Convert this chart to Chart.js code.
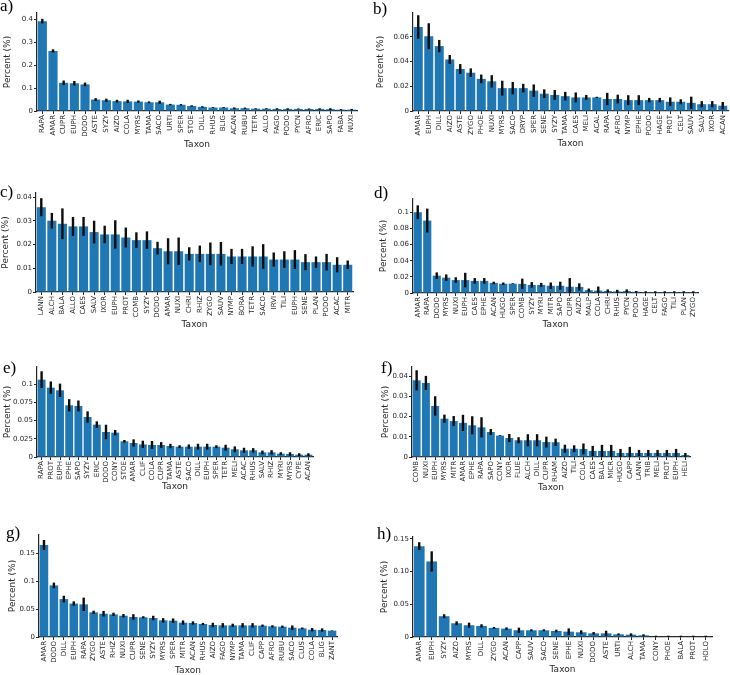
<!DOCTYPE html>
<html>
<head>
<meta charset="utf-8">
<script src="https://cdn.jsdelivr.net/npm/chart.js@4.4.1/dist/chart.umd.min.js"></script>
<style>
  html, body { margin: 0; padding: 0; background: #fff; overflow: hidden; }
  body { width: 730px; height: 675px; position: relative; }
  canvas { position: absolute; }
  .lbl { position: absolute; font-family: "Liberation Serif", "DejaVu Serif", serif; font-size: 17px; line-height: 1; color: #000; }
</style>
</head>
<body>
<script>
// ---------- DATA ----------
const catsA = ["RAPA","AMAR","CUPR","EUPH","DODO","ASTE","SYZY","AIZO","COLA","MYRS","TAMA","SACO","URTI","SPER","STOE","DILL","RHUS","BLIG","ACAN","RUBU","TETR","ALLO","FAGO","PODO","PYCN","AFRO","ERIC","SAPO","FABA","NUXI"];
const valsA = [0.392,0.262,0.123,0.121,0.116,0.050,0.047,0.043,0.042,0.041,0.038,0.038,0.028,0.027,0.022,0.018,0.015,0.015,0.012,0.012,0.010,0.010,0.009,0.009,0.009,0.009,0.009,0.008,0.006,0.006];
const errsA = [0.010,0.007,0.010,0.010,0.008,0.006,0.007,0.006,0.007,0.005,0.004,0.007,0.003,0.003,0.003,0.003,0.002,0.002,0.004,0.003,0.002,0.002,0.003,0.003,0.002,0.002,0.003,0.004,0.002,0.003];
const ticksA = [0,0.1,0.2,0.3,0.4];
const tickLabelsA = ["0","0.1","0.2","0.3","0.4"];

const catsB = ["AMAR","EUPH","DILL","AIZO","ASTE","ZYGO","PHOE","NUXI","MYRS","SACO","DRYP","SPER","SENE","SYZY","TAMA","CAES","MELI","ACAL","RAPA","AFRO","NYMP","EPHE","PODO","HAGE","PROT","CELT","SAUV","SALV","IXOR","ACAN"];
const valsB = [0.068,0.0605,0.0525,0.0417,0.034,0.031,0.026,0.024,0.0185,0.0185,0.0185,0.0165,0.014,0.013,0.012,0.011,0.011,0.011,0.0097,0.0097,0.0088,0.0088,0.0088,0.0088,0.0075,0.0075,0.0066,0.0055,0.0055,0.0043];
const errsB = [0.0095,0.0105,0.005,0.0036,0.004,0.0035,0.0035,0.005,0.006,0.005,0.0035,0.005,0.0035,0.004,0.0035,0.004,0.002,0.0005,0.005,0.0035,0.004,0.004,0.0018,0.0018,0.0035,0.002,0.005,0.0025,0.0025,0.003];
const ticksB = [0,0.02,0.04,0.06];
const tickLabelsB = ["0","0.02","0.04","0.06"];

const catsC = ["LANN","ALCH","BALA","ALLO","CAES","SALV","IXOR","EUPH","PROT","COMB","SYZY","DODO","AMAR","NUXI","CHRI","RHIZ","ZYGO","SAUV","NYMP","BORA","TETR","SACO","IRVI","TILI","EUPH","SENE","PLAN","PODO","ACAC","MITR"];
const valsC = [0.0358,0.0301,0.0288,0.0277,0.0277,0.0253,0.0243,0.0243,0.0230,0.0219,0.0219,0.0185,0.0172,0.0172,0.0161,0.0161,0.0161,0.0161,0.0150,0.0150,0.0150,0.0150,0.0137,0.0137,0.0137,0.0126,0.0126,0.0126,0.0115,0.0115];
const errsC = [0.0038,0.0033,0.0065,0.004,0.004,0.0048,0.0037,0.006,0.0042,0.0033,0.0037,0.0027,0.0055,0.0058,0.0028,0.0035,0.0048,0.005,0.0032,0.0032,0.0043,0.0052,0.003,0.0035,0.004,0.0034,0.0024,0.0035,0.0032,0.0018];
const ticksC = [0,0.01,0.02,0.03,0.04];
const tickLabelsC = ["0","0.01","0.02","0.03","0.04"];

const catsD = ["AMAR","RAPA","DODO","MYRS","NUXI","EUPH","CAES","EPHE","ACAN","HUGO","SPER","COMB","SYZY","MYRI","MITR","SAPO","CUPR","AIZO","MALP","COLA","CHRI","RHUS","PYCN","PODO","HAGE","CELT","FAGO","TILI","PLAN","ZYGO"];
const valsD = [0.100,0.0897,0.0215,0.019,0.016,0.016,0.015,0.015,0.0125,0.0115,0.0115,0.0113,0.010,0.010,0.009,0.009,0.0077,0.0075,0.0035,0.003,0.0025,0.002,0.0025,0.0015,0.0012,0.0012,0.0012,0.0012,0.0012,0.0012];
const errsD = [0.0085,0.0148,0.004,0.004,0.0035,0.009,0.0035,0.0035,0.0015,0.0015,0.0005,0.0065,0.0035,0.0025,0.004,0.005,0.0108,0.0045,0.002,0.005,0.002,0.002,0.002,0.001,0.001,0.001,0.001,0.001,0.001,0.001];
const ticksD = [0,0.02,0.04,0.06,0.08,0.1];
const tickLabelsD = ["0","0.02","0.04","0.06","0.08","0.1"];

const catsE = ["RAPA","PROT","EUPH","EPHE","SAPO","SYZY","ERIC","DODO","CONY","STOE","AMAR","CLIF","COLA","CUPR","TAMA","ASTE","SACO","DILL","EUPH","SPER","TETR","MELI","ACAC","RHUS","SALV","RHIZ","MYRI","MYRS","CYPE","ACAN"];
const valsE = [0.1064,0.0954,0.0917,0.0711,0.0702,0.055,0.0445,0.0344,0.0335,0.0216,0.0193,0.0174,0.0165,0.0165,0.0151,0.0142,0.0142,0.0142,0.0142,0.0142,0.0128,0.0106,0.0092,0.0092,0.0064,0.0064,0.0046,0.0041,0.0032,0.0032];
const errsE = [0.0115,0.0085,0.0092,0.0085,0.0075,0.0078,0.0045,0.010,0.0037,0.0018,0.005,0.005,0.0055,0.004,0.003,0.002,0.003,0.004,0.004,0.002,0.004,0.004,0.0035,0.003,0.0025,0.003,0.002,0.0025,0.002,0.002];
const ticksE = [0,0.025,0.05,0.075,0.1];
const tickLabelsE = ["0","0.025","0.05","0.075","0.1"];

const catsF = ["COMB","NUXI","EUPH","MYRS","MITR","AMAR","EPHE","RAPA","SAPO","CONY","IXOR","FLUE","ALCH","DILL","CUPR","RHAM","AIZO","TILI","COLA","CAES","BALA","MICR","HUGO","CAPP","LANN","TRIB","MELI","PROT","EUPH","HELI"];
const valsF = [0.038,0.0367,0.0253,0.019,0.0178,0.0169,0.0157,0.0147,0.0124,0.0106,0.0094,0.0083,0.0083,0.0083,0.0074,0.0073,0.0041,0.0041,0.004,0.003,0.003,0.003,0.002,0.002,0.002,0.002,0.002,0.002,0.002,0.001];
const errsF = [0.005,0.0035,0.0048,0.002,0.0025,0.004,0.0045,0.005,0.0015,0.0002,0.002,0.0015,0.003,0.003,0.0027,0.0018,0.002,0.0017,0.0027,0.0025,0.003,0.003,0.002,0.003,0.0015,0.0015,0.0015,0.0015,0.002,0.001];
const ticksF = [0,0.01,0.02,0.03,0.04];
const tickLabelsF = ["0","0.01","0.02","0.03","0.04"];

const catsG = ["AMAR","DODO","DILL","EUPH","RAPA","ZYGO","ASTE","RHIZ","NUXI","CUPR","SENE","SYZY","MYRS","SPER","MITR","ACAN","RHUS","AIZO","FAGO","NYMP","TAMA","CLIF","CAPP","AFRO","RUBU","SACO","CLUS","COLA","BLIG","ZANT"];
const valsG = [0.165,0.0926,0.068,0.060,0.0586,0.0442,0.0418,0.0406,0.0382,0.0359,0.0353,0.0341,0.0299,0.0293,0.0257,0.0251,0.0233,0.0215,0.0209,0.0209,0.0209,0.0209,0.0203,0.0191,0.0185,0.0167,0.0155,0.0131,0.0125,0.0114];
const errsG = [0.009,0.005,0.006,0.004,0.012,0.003,0.005,0.003,0.003,0.005,0.002,0.004,0.004,0.004,0.004,0.003,0.002,0.004,0.004,0.003,0.004,0.004,0.002,0.002,0.002,0.004,0.0015,0.003,0.003,0.0005];
const ticksG = [0,0.05,0.1,0.15];
const tickLabelsG = ["0","0.05","0.1","0.15"];

const catsH = ["AMAR","EUPH","SYZY","AIZO","MYRS","DILL","ZYGO","ACAN","CAPP","SAUV","SACO","SENE","EPHE","NUXI","DODO","ASTE","URTI","ALCH","TAMA","CONY","PHOE","BALA","PROT","HOLO"];
const valsH = [0.139,0.1156,0.0318,0.021,0.018,0.017,0.0139,0.0128,0.0103,0.0103,0.0103,0.0092,0.0082,0.0072,0.0056,0.0056,0.0041,0.0036,0.0026,0.001,0.001,0.001,0.001,0.001];
const errsH = [0.006,0.0155,0.003,0.003,0.004,0.0025,0.0015,0.002,0.004,0.0015,0.0015,0.002,0.005,0.003,0.002,0.004,0.0015,0.002,0.0015,0.001,0.001,0.001,0.001,0.001];
const ticksH = [0,0.05,0.10,0.15];
const tickLabelsH = ["0","0.05","0.10","0.15"];

const yMaxes = [0.4275,0.0793,0.0418,0.1164,0.1238,0.0446,0.183,0.153];

// ---------- LAYOUT ----------
const panelLetters = ["a)","b)","c)","d)","e)","f)","g)","h)"];
const dataSets = [
  [catsA,valsA,errsA,ticksA,tickLabelsA],
  [catsB,valsB,errsB,ticksB,tickLabelsB],
  [catsC,valsC,errsC,ticksC,tickLabelsC],
  [catsD,valsD,errsD,ticksD,tickLabelsD],
  [catsE,valsE,errsE,ticksE,tickLabelsE],
  [catsF,valsF,errsF,ticksF,tickLabelsF],
  [catsG,valsG,errsG,ticksG,tickLabelsG],
  [catsH,valsH,errsH,ticksH,tickLabelsH]
];
// plot area: left, right, top, bottom ; yTitleX ; xTitleY ; label pos
const geo = [
  {l:37,   r:357,   t:12.7,  b:110.7, tx:7,     ty:144.3, lx:0,   ly:-3},
  {l:412.7,r:727.5, t:12.7,  b:111,   tx:380,   ty:143.3, lx:373, ly:0},
  {l:36,   r:353,   t:193,   b:291.7, tx:5.4,   ty:324.7, lx:0,   ly:183},
  {l:412.7,r:698,   t:199,   b:293.3, tx:383,   ty:324.7, lx:374, ly:184},
  {l:37,   r:313,   t:366.7, b:456.7, tx:7,     ty:486.7, lx:3,   ly:359},
  {l:411.7,r:690,   t:366.7, b:456.7, tx:385,   ty:487.3, lx:381, ly:359},
  {l:39,   r:336.7, t:535,   b:637,   tx:12.7,  ty:670.7, lx:6,   ly:524},
  {l:412.7,r:711.7, t:537.3, b:636.7, tx:384,   ty:670,   lx:377, ly:525}
];

const BAR = '#1f77b4';
const INK = '#262626';
const TITLE_HALF = 5.4;
const PAD_TOP = 6, PAD_RIGHT = 2;

const errorBarPlugin = {
  id: 'errbars',
  afterDatasetsDraw(chart) {
    const ds = chart.data.datasets[0];
    const meta = chart.getDatasetMeta(0);
    const ys = chart.scales.y;
    const ctx = chart.ctx;
    const a = chart.chartArea;
    ctx.save();
    ctx.beginPath();
    ctx.rect(a.left, a.top - 2, a.right - a.left, a.bottom - a.top + 2);
    ctx.clip();
    ctx.strokeStyle = '#0d0d0d';
    ctx.lineWidth = 2.4;
    ctx.lineCap = 'butt';
    meta.data.forEach((bar, i) => {
      const v = ds.data[i], e = ds.errors[i];
      ctx.beginPath();
      ctx.moveTo(bar.x, ys.getPixelForValue(v - e));
      ctx.lineTo(bar.x, ys.getPixelForValue(v + e));
      ctx.stroke();
    });
    ctx.restore();
  }
};

geo.forEach((g, k) => {
  const [cats, vals, errs, tks, tkl] = dataSets[k];
  const cLeft = Math.max(0, Math.round(g.tx - TITLE_HALF));
  const cTop = Math.round(g.t - PAD_TOP);
  const cBottom = Math.round(g.ty + TITLE_HALF);
  const cRight = Math.round(g.r + PAD_RIGHT);
  const W = cRight - cLeft, H = cBottom - cTop;
  const yW = Math.round(g.l) - cLeft;
  const xH = cBottom - Math.round(g.b);
  const cv = document.createElement('canvas');
  cv.width = W; cv.height = H;
  cv.style.left = cLeft + 'px'; cv.style.top = cTop + 'px';
  cv.style.width = W + 'px'; cv.style.height = H + 'px';
  document.body.appendChild(cv);

  const lb = document.createElement('div');
  lb.className = 'lbl';
  lb.textContent = panelLetters[k];
  lb.style.left = g.lx + 'px'; lb.style.top = g.ly + 'px';
  document.body.appendChild(lb);

  new Chart(cv, {
    type: 'bar',
    data: {
      labels: cats,
      datasets: [{ data: vals, errors: errs, backgroundColor: BAR, borderWidth: 0,
                   barPercentage: 0.86, categoryPercentage: 1.0 }]
    },
    plugins: [errorBarPlugin],
    options: {
      responsive: false,
      animation: false,
      devicePixelRatio: 1,
      layout: { padding: { top: PAD_TOP, right: PAD_RIGHT, left: 0, bottom: 0 } },
      plugins: { legend: { display: false }, tooltip: { enabled: false } },
      scales: {
        x: {
          offset: true,
          grid: { display: true, drawOnChartArea: false, offset: false, tickLength: 3, color: INK, tickWidth: 1 },
          border: { display: true, color: INK, width: 1.2 },
          ticks: { autoSkip: false, minRotation: 90, maxRotation: 90, padding: 1,
                   color: INK, font: { family: 'DejaVu Sans', size: 7 } },
          title: { display: true, text: 'Taxon', color: INK, padding: 0,
                   font: { family: 'DejaVu Sans', size: 9 } },
          afterFit(s) { s.height = xH; s.paddingLeft = 0; s.paddingRight = 0; }
        },
        y: {
          min: 0, max: yMaxes[k],
          grid: { display: true, drawOnChartArea: false, tickLength: 3, color: INK, tickWidth: 1 },
          border: { display: true, color: INK, width: 1.2 },
          afterBuildTicks(s) { s.ticks = tks.map(v => ({ value: v })); },
          ticks: { padding: 1, color: INK, font: { family: 'DejaVu Sans', size: 7 },
                   callback: (v, i) => tkl[i] },
          title: { display: true, text: 'Percent (%)', color: INK, padding: 0,
                   font: { family: 'DejaVu Sans', size: 9 } },
          afterFit(s) { s.width = yW; s.paddingTop = 0; s.paddingBottom = 0; }
        }
      }
    }
  });
});
</script>
</body>
</html>
